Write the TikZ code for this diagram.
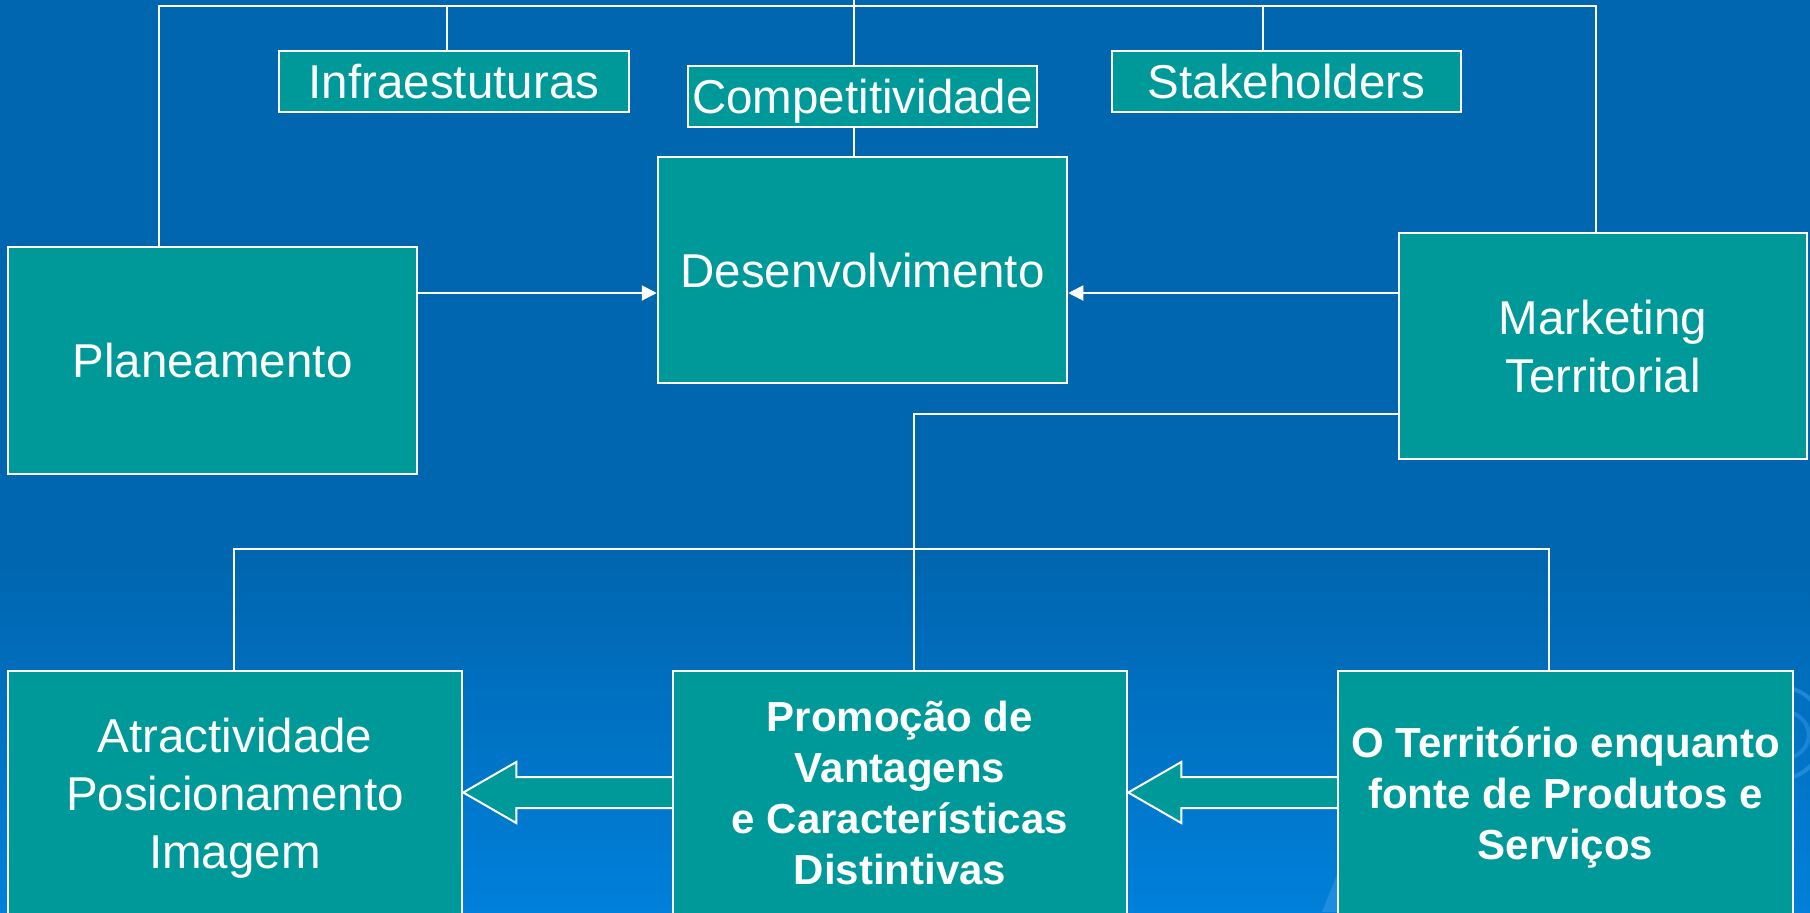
\documentclass[tikz,border=0pt]{standalone}
\usepackage{fontspec}
\setmainfont{Liberation Sans}
\usetikzlibrary{arrows.meta,calc}
\definecolor{bgtop}{HTML}{0066B0}
\definecolor{bgbot}{HTML}{0080DA}
\definecolor{teal}{HTML}{009999}
\definecolor{swirlc}{HTML}{3A9CE6}
\pgfdeclareverticalshading{bgshade}{100bp}{color(0bp)=(bgbot); color(25bp)=(bgbot); color(44bp)=(bgtop); color(100bp)=(bgtop)}
\begin{document}
\begin{tikzpicture}[x=0.5pt,y=-0.5pt,
  box/.style={draw=white, fill=teal, line width=1.25pt, inner sep=0pt, text=white,
    align=center, text depth=0pt},
  reg/.style={font=\fontsize{23.75pt}{29pt}\selectfont},
  bld/.style={font=\bfseries\fontsize{21pt}{25.5pt}\selectfont},
  wire/.style={draw=white, line width=1pt},
  thinarrow/.style={wire, -{Triangle[length=7.5pt,width=7.5pt]}},
  blockarrow/.style={draw=white, fill=teal, line width=1pt, line join=miter}]
\useasboundingbox (0,0) rectangle (1810,912);
\shade[shading=bgshade] (0,0) rectangle (1810,912);
% faint background swirls
\draw[swirlc, opacity=0.55, line width=2pt] (1790,688) .. controls (1835,700) and (1835,765) .. (1790,778);
\draw[swirlc, opacity=0.45, line width=2pt] (1790,712) .. controls (1815,720) and (1815,750) .. (1790,758);
\fill[swirlc, opacity=0.5] (1322,912) -- (1338,872) -- (1338,912) -- cycle;

% nodes
\node[box, reg, minimum width=204.5pt, minimum height=113.5pt] (plan) at (212.5,360.5) {Planeamento};
\node[box, reg, minimum width=204.5pt, minimum height=113pt] (desen) at (862.5,270) {Desenvolvimento};
\node[box, reg, minimum width=204pt, minimum height=113pt] (mkt) at (1603,346) {Marketing\\Territorial};
\node[box, reg, minimum width=175pt, minimum height=30.5pt] (infra) at (454,81.5) {Infraestuturas};
\node[box, reg, minimum width=174.5pt, minimum height=30.5pt] (comp) at (862.5,96.5) {Competitividade};
\node[box, reg, minimum width=174.5pt, minimum height=30.5pt] (stake) at (1286.5,81.5) {Stakeholders};
\node[box, reg, minimum width=227pt, minimum height=122pt] (atr) at (235,793) {Atractividade\\Posicionamento\\Imagem};
\node[box, bld, minimum width=227pt, minimum height=122pt] (prom) at (900,793) {Promoção de\\Vantagens\\e Características\\Distintivas};
\node[box, bld, minimum width=227.5pt, minimum height=122pt] (terr) at (1565.5,793) {O Território enquanto\\fonte de Produtos e\\Serviços};

% coordinates for connector corners
\coordinate (tl) at (159,6);
\coordinate (tr) at (1596,6);
\coordinate (ti) at (447,6);
\coordinate (ts) at (1263,6);
\coordinate (tc) at (854,0);
\coordinate (ya) at (0,293);
\coordinate (jm) at (914,414);
\coordinate (bl) at (234,549);
\coordinate (br) at (1549,549);
\coordinate (yb) at (0,792.5);

% top tree
\draw[wire] (plan.north -| tl) -- (tl) -- (tr) -- (mkt.north -| tr);
\draw[wire] (ti) -- (infra.north -| ti);
\draw[wire] (ts) -- (stake.north -| ts);
\draw[wire] (tc) -- (comp.north -| tc);
\draw[wire] (comp.south -| tc) -- (desen.north -| tc);

% arrows into Desenvolvimento
\draw[thinarrow] (plan.east |- ya) -- (desen.west |- ya);
\draw[thinarrow] (mkt.west |- ya) -- (desen.east |- ya);

% Marketing to bottom row
\draw[wire] (mkt.west |- jm) -- (jm) -- (prom.north -| jm);
\draw[wire] (atr.north -| bl) -- (bl) -- (br) -- (terr.north -| br);

% block arrows
\filldraw[blockarrow] ($(prom.west |- yb)+(0,-15.5)$) -- ($(atr.east |- yb)+(53,-15.5)$) -- ($(atr.east |- yb)+(53,-30.5)$)
  -- (atr.east |- yb) -- ($(atr.east |- yb)+(53,30.5)$) -- ($(atr.east |- yb)+(53,15.5)$) -- ($(prom.west |- yb)+(0,15.5)$);
\filldraw[blockarrow] ($(terr.west |- yb)+(0,-15.5)$) -- ($(prom.east |- yb)+(53,-15.5)$) -- ($(prom.east |- yb)+(53,-30.5)$)
  -- (prom.east |- yb) -- ($(prom.east |- yb)+(53,30.5)$) -- ($(prom.east |- yb)+(53,15.5)$) -- ($(terr.west |- yb)+(0,15.5)$);
\end{tikzpicture}
\end{document}
